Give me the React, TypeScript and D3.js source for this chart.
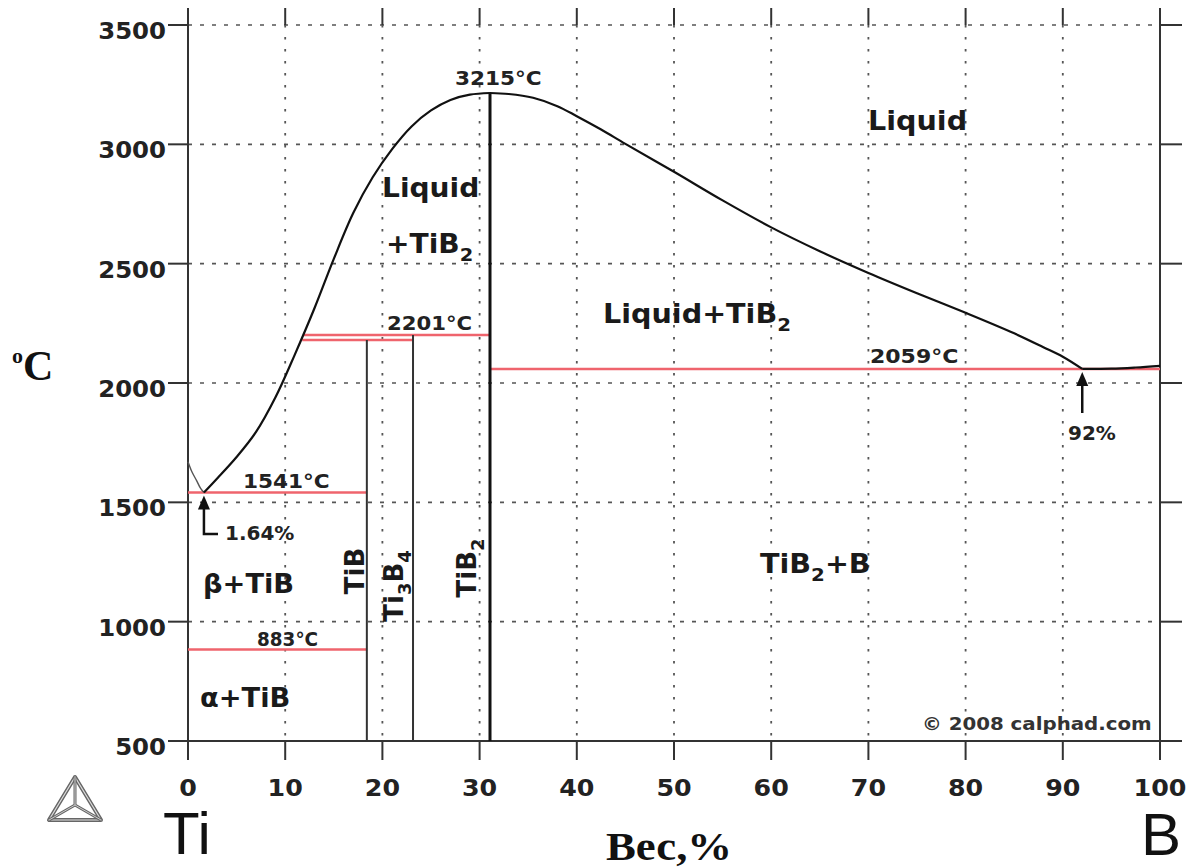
import React from "react";
import * as d3 from "d3";

const X_TICKS = [0, 10, 20, 30, 40, 50, 60, 70, 80, 90, 100];
const Y_TICKS = [500, 1000, 1500, 2000, 2500, 3000, 3500];

// liquidus: Ti-rich side down to eutectic
const liqTi: [number, number][] = [
  [0, 1670], [0.4, 1628], [0.9, 1590], [1.3, 1558], [1.64, 1541],
];
// liquidus of TiB2 (left branch)
const liqLeft: [number, number][] = [
  [1.64, 1541], [3, 1600], [5, 1690], [7, 1795], [9, 1940], [11, 2120],
  [13, 2312], [15, 2520], [17, 2712], [19, 2862], [21, 2980], [23, 3075],
  [25, 3142], [27, 3186], [29, 3208], [31.07, 3215],
];
// liquidus of TiB2 (right branch)
const liqRight: [number, number][] = [
  [31.07, 3215], [33, 3211], [35.5, 3195], [38, 3160], [40, 3118], [42.5, 3062],
  [45, 3002], [50, 2885], [55, 2765], [60, 2652], [65, 2552], [70, 2461],
  [75, 2376], [80, 2294], [85, 2208], [88, 2150], [90, 2110], [92, 2059],
];
// liquidus of B
const liqB: [number, number][] = [[92, 2059], [95, 2060], [97.5, 2065], [100, 2072]];

// compound lines
const compounds: { name: string; x: number; t0: number; t1: number; w: number }[] = [
  { name: "TiB", x: 18.4, t0: 500, t1: 2180, w: 2 },
  { name: "Ti3B4", x: 23.15, t0: 500, t1: 2201, w: 2 },
  { name: "TiB2", x: 31.07, t0: 500, t1: 3215, w: 3 },
];
// invariant horizontal lines: [x0, x1, T]
const invariants: [number, number, number][] = [
  [0, 18.4, 883],
  [0, 18.4, 1541],
  [11.75, 23.15, 2180],
  [11.9, 31.07, 2201],
  [31.07, 100, 2059],
];

const W = 1202;
const H = 867;
const x = d3.scaleLinear().domain([0, 100]).range([188, 1160]);
const y = d3.scaleLinear().domain([500, 3500]).range([741, 25]);

const lineGen = d3
  .line<[number, number]>()
  .x((d) => x(d[0]))
  .y((d) => y(d[1]))
  .curve(d3.curveCatmullRom.alpha(0.5));

const SANS = "'DejaVu Sans', Verdana, sans-serif";
const SERIF = "'Liberation Serif', 'Times New Roman', serif";
const PLAIN = "'Liberation Sans', Arial, sans-serif";

function Lbl({ x0, y0, size, sx = 1.1, children, fill = "#1a1a1a", weight = "bold" }: any) {
  return (
    <text
      transform={`translate(${x0},${y0}) scale(${sx},1)`}
      fontFamily={SANS}
      fontWeight={weight}
      fontSize={size}
      fill={fill}
    >
      {children}
    </text>
  );
}

export default function App() {
  const yTop = 8;
  return (
    <svg
      width={W}
      height={H}
      viewBox={`0 0 ${W} ${H}`}
      style={{ position: "absolute", left: 0, top: 0, background: "#fff" }}
    >
      <rect x={0} y={0} width={W} height={H} fill="#fff" />
      {/* grid */}
      <g>
        {Y_TICKS.filter((t) => t > 500).map((t) => (
          <line key={"gy" + t} x1={x(0)} x2={x(100)} y1={y(t)} y2={y(t)}
            stroke="#555" strokeWidth={1.6} strokeDasharray="4,8" />
        ))}
        {X_TICKS.filter((t) => t > 0 && t < 100).map((t) => (
          <line key={"gx" + t} x1={x(t)} x2={x(t)} y1={y(3500)} y2={y(500)}
            stroke="#555" strokeWidth={1.8} strokeDasharray="2.5,9.5" />
        ))}
      </g>
      {/* axes */}
      <g stroke="#333" strokeWidth={2}>
        <line x1={x(0)} x2={x(0)} y1={yTop} y2={760} />
        <line x1={x(100)} x2={x(100)} y1={yTop} y2={760} />
        <line x1={168} x2={1182} y1={y(500)} y2={y(500)} />
        {Y_TICKS.map((t) => (
          <g key={"yt" + t}>
            <line x1={168} x2={x(0)} y1={y(t)} y2={y(t)} />
            <line x1={x(100)} x2={1182} y1={y(t)} y2={y(t)} />
          </g>
        ))}
        {X_TICKS.map((t) => (
          <g key={"xt" + t}>
            <line x1={x(t)} x2={x(t)} y1={y(500)} y2={760} />
            <line x1={x(t)} x2={x(t)} y1={yTop} y2={y(3500)} />
          </g>
        ))}
      </g>
      {/* tick labels */}
      <g fontFamily={SANS} fontWeight="bold" fontSize={23} fill="#222">
        {Y_TICKS.map((t) => (
          <text key={"yl" + t} transform={`translate(166,${y(t) + 14}) scale(1.06,1)`} textAnchor="end">
            {t}
          </text>
        ))}
        {X_TICKS.map((t) => (
          <text key={"xl" + t} transform={`translate(${x(t)},796) scale(1.1,1)`} textAnchor="middle">
            {t}
          </text>
        ))}
      </g>
      {/* invariant lines */}
      <g stroke="#ef646d" strokeWidth={2.5}>
        {invariants.map((d, i) => (
          <line key={"inv" + i} x1={x(d[0])} x2={x(d[1])} y1={y(d[2])} y2={y(d[2])} />
        ))}
      </g>
      {/* compounds */}
      {compounds.map((c) => (
        <line key={c.name} x1={x(c.x)} x2={x(c.x)} y1={y(c.t0)} y2={y(c.t1)}
          stroke={c.w > 2 ? "#111" : "#333"} strokeWidth={c.w} />
      ))}
      {/* liquidus curves */}
      <g fill="none" stroke="#111" strokeWidth={2.2}>
        <path d={lineGen(liqTi) || ""} strokeWidth={1.4} stroke="#555" />
        <path d={lineGen(liqLeft) || ""} />
        <path d={lineGen(liqRight) || ""} />
        <path d={lineGen(liqB) || ""} />
      </g>
      {/* arrows */}
      <g fill="#111" stroke="#111" strokeWidth={2.5}>
        <polygon points={`${x(92)},${y(2059) + 3} ${x(92) - 6},${y(2059) + 17} ${x(92) + 6},${y(2059) + 17}`} strokeWidth={0} />
        <line x1={x(92)} x2={x(92)} y1={y(2059) + 15} y2={413} />
        <polygon points={`${x(1.64)},${y(1541) + 3} ${x(1.64) - 6},${y(1541) + 17} ${x(1.64) + 6},${y(1541) + 17}`} strokeWidth={0} />
        <polyline fill="none" points={`${x(1.64)},${y(1541) + 15} ${x(1.64)},534 218,534`} />
      </g>
      {/* annotations */}
      <Lbl x0={455} y0={85} size={20} sx={1.08} fill="#222">3215°C</Lbl>
      <Lbl x0={387} y0={330} size={20} sx={1.06} fill="#222">2201°C</Lbl>
      <Lbl x0={870} y0={363} size={20} sx={1.1} fill="#222">2059°C</Lbl>
      <Lbl x0={243} y0={488} size={20} sx={1.08} fill="#222">1541°C</Lbl>
      <Lbl x0={257} y0={646} size={20} sx={0.92} fill="#222">883°C</Lbl>
      <Lbl x0={225} y0={540} size={20} sx={1.0} fill="#222">1.64%</Lbl>
      <Lbl x0={1068} y0={440} size={20} sx={1.0} fill="#222">92%</Lbl>

      <Lbl x0={868} y0={130} size={26} sx={1.1}>Liquid</Lbl>
      <Lbl x0={382} y0={197} size={26} sx={1.08}>Liquid</Lbl>
      <Lbl x0={386} y0={253} size={26} sx={1.08}>
        +TiB<tspan fontSize={18} dy={8}>2</tspan>
      </Lbl>
      <Lbl x0={603} y0={323} size={26} sx={1.1}>
        Liquid+TiB<tspan fontSize={18} dy={8}>2</tspan>
      </Lbl>
      <Lbl x0={760} y0={573} size={26} sx={1.1}>
        TiB<tspan fontSize={18} dy={8}>2</tspan><tspan dy={-8}>+B</tspan>
      </Lbl>
      <Lbl x0={203} y0={593} size={26} sx={1.05}>β+TiB</Lbl>
      <Lbl x0={200} y0={707} size={26} sx={1.05}>α+TiB</Lbl>

      {/* rotated compound labels */}
      <text transform={`translate(364,571) rotate(-90)`} textAnchor="middle"
        fontFamily={SANS} fontWeight="bold" fontSize={26} fill="#1a1a1a">TiB</text>
      <text transform={`translate(403,586) rotate(-90)`} textAnchor="middle"
        fontFamily={SANS} fontWeight="bold" fontSize={26} fill="#1a1a1a">
        Ti<tspan fontSize={18} dy={8}>3</tspan><tspan dy={-8}>B</tspan><tspan fontSize={18} dy={8}>4</tspan>
      </text>
      <text transform={`translate(476,568) rotate(-90)`} textAnchor="middle"
        fontFamily={SANS} fontWeight="bold" fontSize={26} fill="#1a1a1a">
        TiB<tspan fontSize={18} dy={8}>2</tspan>
      </text>

      <Lbl x0={922} y0={730} size={18} sx={1.1} fill="#333">© 2008 calphad.com</Lbl>

      {/* axis titles */}
      <text x={12} y={380} fontFamily={SERIF} fontWeight="bold" fontSize={42} fill="#111">
        <tspan fontSize={22} dy={-17}>o</tspan><tspan dy={17}>C</tspan>
      </text>
      <text x={163} y={854} fontFamily={PLAIN} fontSize={60} fill="#111">Ti</text>
      <text x={1141} y={855} fontFamily={PLAIN} fontSize={60} fill="#111">B</text>
      <text transform="translate(606,860) scale(1.12,1)" fontFamily={SERIF} fontWeight="bold" fontSize={40} fill="#111">Вес,%</text>

      {/* logo */}
      <g fill="none" strokeLinejoin="round">
        <path d="M75,777 L49,820 L101,820 Z" stroke="#666" strokeWidth={4} />
        <path d="M75,777 L49,820 L101,820 Z" stroke="#ddd" strokeWidth={1.2} />
        <path d="M75,777 L75,805 M49,820 L75,805 M101,820 L75,805" stroke="#666" strokeWidth={3} />
        <path d="M75,777 L75,805 M49,820 L75,805 M101,820 L75,805" stroke="#ccc" strokeWidth={1} />
      </g>
    </svg>
  );
}
